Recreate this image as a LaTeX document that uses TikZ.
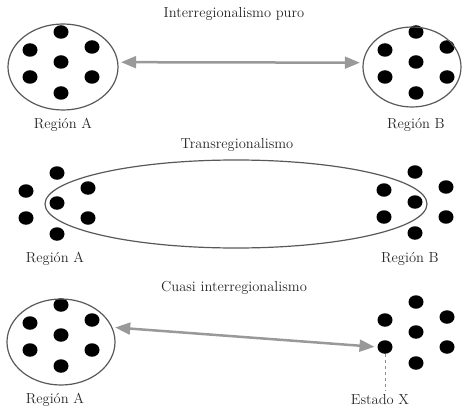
\documentclass[tikz,border=0pt]{standalone}
\usepackage{fontspec}
\usepackage{amssymb}
\usepackage{pgf,tikz}
\usetikzlibrary{arrows,shapes.geometric}

\begin{document}
\begin{tikzpicture}[x=1pt,y=-1pt,
  punto/.style={ellipse, fill=black, inner sep=0pt, minimum width=15pt, minimum height=13.5pt},
  region/.style={ellipse, draw=black!65, line width=1.2pt, inner sep=0pt},
  flecha/.style={triangle 45-triangle 45, draw=black!40, line width=2.5pt, shorten <=3pt, shorten >=3pt},
  etiq/.style={text=black!85, font=\fontsize{14.5}{17}\selectfont}]
\useasboundingbox (0,0) rectangle (463,409);

% los puntos de cada grupo
\foreach \g/\cx/\cy in {g1a/61/62, g1b/416/62, g2a/57/203, g2b/415/202, g3a/61/335, g3b/416/332}
  \foreach \n/\dx/\dy in {t/0/-30, lu/-31/-12, ru/31/-15, c/0/0, ll/-31/15, rl/31/15, b/0/31}
    \node [punto] (\g\n) at (\cx+\dx,\cy+\dy) {};

% Interregionalismo puro
\node [etiq] (tit1) at (234,14) {Interregionalismo puro};
\node [region, minimum width=110pt, minimum height=86pt] (regA1) at (63,67) {};
\node [region, minimum width=98pt, minimum height=80pt] (regB1) at (412,67) {};
\draw [flecha] (regA1.5) -- (regB1.175);
\node [etiq] (labA1) at (63,125) {Región A};
\node [etiq] (labB1) at (416,125) {Región B};

% Transregionalismo
\node [etiq] (tit2) at (237,145) {Transregionalismo};
\node [region, minimum width=382pt, minimum height=88pt] (regT) at (236,204) {};
\node [etiq] (labA2) at (55,259) {Región A};
\node [etiq] (labB2) at (410,259) {Región B};

% Cuasi interregionalismo
\node [etiq] (tit3) at (234,288) {Cuasi interregionalismo};
\node [region, minimum width=108pt, minimum height=86pt] (regA3) at (61,342) {};
\draw [flecha] (regA3.16) -- (g3bll.west);
\node [etiq] (labA3) at (55,400) {Región A};
\node [etiq] (estx) at (380,400) {Estado X};
\draw [dashed, draw=black!45, line width=0.9pt] (g3bll.south) -- (g3bll.south |- estx.north);
\end{tikzpicture}
\end{document}
